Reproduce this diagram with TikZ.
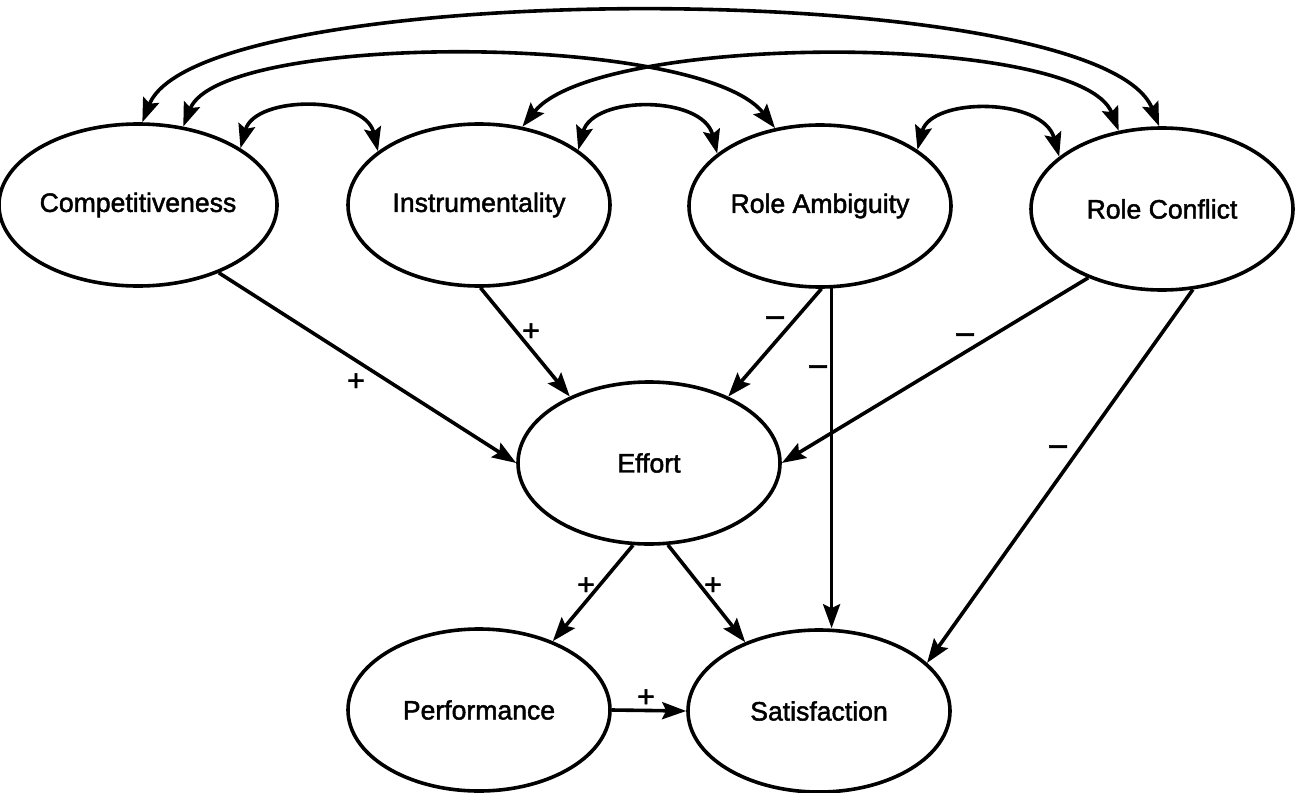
\documentclass[tikz,border=0pt]{standalone}
\usepackage{fontspec}
\setmainfont{Liberation Sans}
\usetikzlibrary{shapes.geometric,arrows.meta}
\begin{document}
\begin{tikzpicture}[x=0.5pt,y=-0.5pt,
  latent/.style={ellipse,draw,line width=1.8pt,minimum width=131pt,minimum height=81pt,inner sep=0pt,font=\fontsize{13.3}{16}\selectfont\addfontfeature{FakeBold=1.8}},
  tip/.tip={Stealth[length=12pt,width=8.5pt,inset=2pt]},
  conn/.style={line width=1.8pt,-tip},
  dconn/.style={line width=1.8pt,tip-tip},
  sign/.style={font=\fontsize{15}{16}\selectfont\addfontfeature{FakeBold=1.5},inner sep=0pt},
  minus/.style={font=\fontsize{18}{18}\selectfont\addfontfeature{FakeBold=1.5},inner sep=0pt}]
\useasboundingbox (0,0) rectangle (1295,792);
\node[latent] (comp) at (138,205) {Competitiveness};
\node[latent] (inst) at (479,205) {Instrumentality};
\node[latent] (ra) at (820,206) {Role Ambiguity};
\node[latent] (rc) at (1162,209) {Role Conflict};
\node[latent] (eff) at (649,463) {Effort};
\node[latent] (perf) at (479,710) {Performance};
\node[latent] (sat) at (819,711) {Satisfaction};
% correlations
\draw[dconn] (comp.87) .. controls (200,-24) and (1100,-24) .. (rc.92);
\draw[dconn] (comp.60) .. controls (220,32) and (700,32) .. (ra.120);
\draw[dconn] (inst.61) .. controls (598,32) and (1081,32) .. (rc.119);
\draw[dconn] (comp.29) .. controls (255,95) and (365,95) .. (inst.152);
\draw[dconn] (inst.29) .. controls (593,95) and (703,95) .. (ra.153);
\draw[dconn] (ra.30) .. controls (931,97) and (1043,97) .. (rc.153);
% paths
\draw[conn] (comp.-40) -- (eff.180);
\draw[conn] (inst.-89) -- (eff.140);
\draw[conn] (ra.-89) -- (eff.40);
\draw[conn] (ra.-82) -- (ra.-82 |- sat.north);
\draw[conn] (rc.223) -- (eff.0);
\draw[conn] (rc.-69) -- (sat.24);
\draw[conn] (eff.-101) -- (perf.43);
\draw[conn] (eff.-77) -- (sat.137);
\draw[conn] (perf.east) -- (sat.west);
% signs
\node[sign] (l1) at (356,382) {+};
\node[sign] (l2) at (531,332) {+};
\node[minus] (l3) at (775,323) {−};
\node[minus] (l4) at (818,372) {−};
\node[minus] (l5) at (965,340) {−};
\node[minus] (l6) at (1058,452) {−};
\node[sign] (l7) at (586,586) {+};
\node[sign] (l8) at (713,586) {+};
\node[sign] (l9) at (646,698) {+};
\end{tikzpicture}
\end{document}
